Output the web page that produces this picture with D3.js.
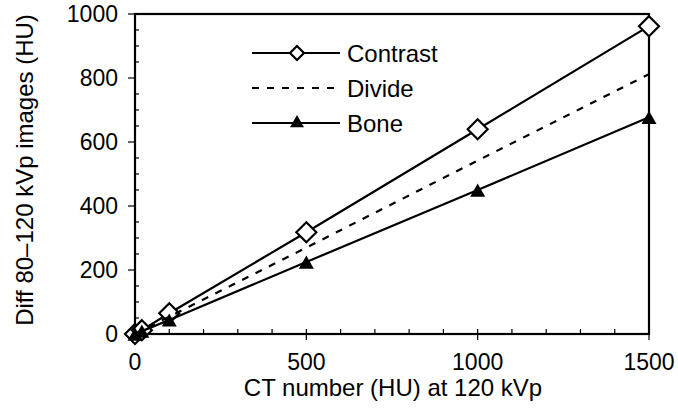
<!DOCTYPE html>
<html>
<head>
<meta charset="utf-8">
<script src="https://cdn.jsdelivr.net/npm/d3@7"></script>
<style>
  body { margin: 0; background: #fff; }
  text { font-family: "Liberation Sans", Arial, sans-serif; fill: #000; }
</style>
</head>
<body>
<svg id="chart" width="678" height="409"></svg>
<script>
// values
let ctNumbers = [0, 20, 100, 500, 1000, 1500];
let contrast = [0, 12, 65, 318, 640, 962];
let divide = [0, 11, 54, 270, 542, 812];
let bone = [0, 9, 44, 225, 450, 677];
let xTicks = [0, 500, 1000, 1500];
let yTicks = [0, 200, 400, 600, 800, 1000];

let svg = d3.select("#chart");
let x = d3.scaleLinear().domain([0, 1500]).range([135, 649]);
let y = d3.scaleLinear().domain([0, 1000]).range([334, 14]);

// frame
svg.append("rect")
    .attr("x", x(0)).attr("y", y(1000))
    .attr("width", x(1500) - x(0)).attr("height", y(0) - y(1000))
    .attr("fill", "none").attr("stroke", "#000").attr("stroke-width", 2.2);

// x axis ticks
d3.range(0, 1501, 100).forEach(function(v) {
    let major = v % 500 === 0;
    svg.append("line")
        .attr("x1", x(v)).attr("x2", x(v))
        .attr("y1", y(0) - 5).attr("y2", y(0) + (major ? 6 : 0))
        .attr("stroke", "#000").attr("stroke-width", 1.2);
});
xTicks.forEach(function(v) {
    svg.append("text")
        .attr("x", x(v)).attr("y", y(0) + 36)
        .attr("text-anchor", "middle")
        .style("font-size", "23px")
        .text(v);
});

// y axis ticks
d3.range(0, 1001, 50).forEach(function(v) {
    let major = v % 200 === 0;
    svg.append("line")
        .attr("x1", x(0) - (major ? 7 : 0)).attr("x2", x(0) + (major ? 0 : 4))
        .attr("y1", y(v)).attr("y2", y(v))
        .attr("stroke", "#000").attr("stroke-width", 1.2);
});
yTicks.forEach(function(v) {
    svg.append("text")
        .attr("x", x(0) - 17).attr("y", y(v) + 8)
        .attr("text-anchor", "end")
        .style("font-size", "23px")
        .text(v);
});

// axis titles
svg.append("text")
    .attr("x", (x(0) + x(1500)) / 2 + 1).attr("y", 396)
    .attr("text-anchor", "middle")
    .style("font-size", "24px")
    .text("CT number (HU) at 120 kVp");

svg.append("text")
    .attr("transform", "translate(33," + ((y(0) + y(1000)) / 2 - 4) + ") rotate(-90)")
    .attr("text-anchor", "middle")
    .style("font-size", "24px")
    .text("Diff 80\u2013120 kVp images (HU)");

function diamond(cx, cy, r) {
    return "M" + cx + "," + (cy - r) + "L" + (cx + r) + "," + cy +
        "L" + cx + "," + (cy + r) + "L" + (cx - r) + "," + cy + "Z";
}
function triangle(cx, cy, r) {
    return "M" + cx + "," + (cy - r) + "L" + (cx + r) + "," + (cy + r * 0.75) +
        "L" + (cx - r) + "," + (cy + r * 0.75) + "Z";
}

let line = d3.line().x(d => x(d[0])).y(d => y(d[1]));

let series = [
    {name: "Contrast", values: contrast, dash: null, marker: "diamond"},
    {name: "Divide", values: divide, dash: "7,8", marker: null},
    {name: "Bone", values: bone, dash: null, marker: "triangle"}
];

series.forEach(function(s, i) {
    let pts = ctNumbers.map((c, j) => [c, s.values[j]]);
    svg.append("path")
        .attr("d", line(pts))
        .attr("fill", "none").attr("stroke", "#000").attr("stroke-width", 2.2)
        .attr("stroke-dasharray", s.dash);

    pts.forEach(function(p) {
        if (s.marker === "diamond") {
            svg.append("path").attr("d", diamond(x(p[0]), y(p[1]), 10))
                .attr("fill", "#fff").attr("stroke", "#000").attr("stroke-width", 2.2);
        } else if (s.marker === "triangle") {
            svg.append("path").attr("d", triangle(x(p[0]), y(p[1]) + 1, 7.5))
                .attr("fill", "#000");
        }
    });

    // legend
    let ly = 53 + i * 35;
    svg.append("line")
        .attr("x1", 252).attr("x2", 340).attr("y1", ly).attr("y2", ly)
        .attr("stroke", "#000").attr("stroke-width", 2.2)
        .attr("stroke-dasharray", s.dash);
    if (s.marker === "diamond") {
        svg.append("path").attr("d", diamond(297, ly, 7))
            .attr("fill", "#fff").attr("stroke", "#000").attr("stroke-width", 2.2);
    } else if (s.marker === "triangle") {
        svg.append("path").attr("d", triangle(297, ly - 1, 7))
            .attr("fill", "#000");
    }
    svg.append("text")
        .attr("x", 347).attr("y", ly + 9)
        .style("font-size", "24px")
        .text(s.name);
});
</script>
</body>
</html>
